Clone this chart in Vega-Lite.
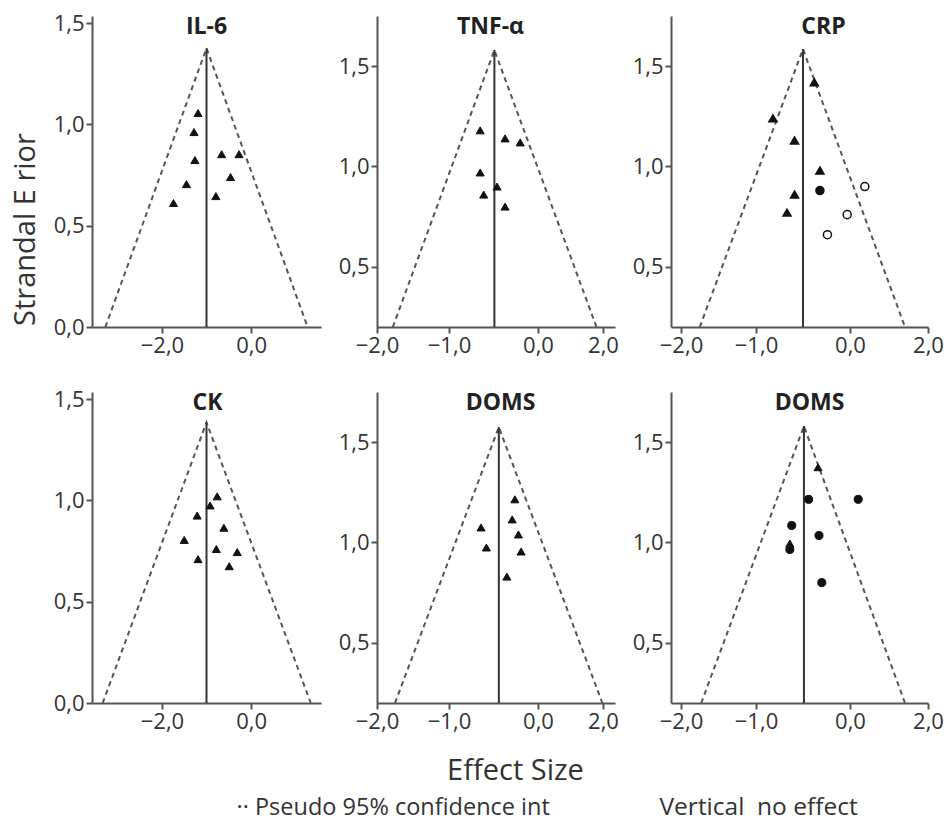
{
  "$schema": "https://vega.github.io/schema/vega-lite/v6.json",
  "padding": {"left": 11, "top": 12, "right": 5, "bottom": 5},
  "background": "white",
  "config": {
    "view": {"stroke": null},
    "font": "Open Sans",
    "axis": {
      "domainColor": "#555", "domainWidth": 2, "tickColor": "#555", "tickWidth": 2, "tickSize": 6,
      "labelColor": "#333", "labelFontSize": 22, "labelFont": "Open Sans", "grid": false, "labelPadding": 2, "labelFlush": false, "labelOverlap": false,
      "titleColor": "#333", "titleFontWeight": "normal", "titleFont": "Open Sans"
    }
  },
  "datasets": {
    "p1": [
      {"kind": "fun", "es": -3.27, "se": 0, "ord": 1}, {"kind": "fun", "es": -1, "se": 1.376, "ord": 2}, {"kind": "fun", "es": 1.27, "se": 0, "ord": 3},
      {"kind": "vl", "es": -1, "se": 0, "se2": 1.376},
      {"kind": "pt", "es": -1.19, "se": 1.056, "m": "tri"}, {"kind": "pt", "es": -1.28, "se": 0.962, "m": "tri"},
      {"kind": "pt", "es": -1.26, "se": 0.824, "m": "tri"}, {"kind": "pt", "es": -1.45, "se": 0.705, "m": "tri"},
      {"kind": "pt", "es": -1.74, "se": 0.612, "m": "tri"}, {"kind": "pt", "es": -0.66, "se": 0.853, "m": "tri"},
      {"kind": "pt", "es": -0.27, "se": 0.853, "m": "tri"}, {"kind": "pt", "es": -0.46, "se": 0.74, "m": "tri"},
      {"kind": "pt", "es": -0.79, "se": 0.646, "m": "tri"}
    ],
    "p2": [
      {"kind": "fun", "es": -1.78, "se": 0.2, "ord": 1}, {"kind": "fun", "es": -0.49, "se": 1.58, "ord": 2}, {"kind": "fun", "es": 1.8, "se": 0.2, "ord": 3},
      {"kind": "vl", "es": -0.49, "se": 0.2, "se2": 1.58},
      {"kind": "pt", "es": -0.65, "se": 1.18, "m": "tri"}, {"kind": "pt", "es": -0.37, "se": 1.14, "m": "tri"},
      {"kind": "pt", "es": -0.2, "se": 1.12, "m": "tri"}, {"kind": "pt", "es": -0.65, "se": 0.97, "m": "tri"},
      {"kind": "pt", "es": -0.46, "se": 0.9, "m": "tri"}, {"kind": "pt", "es": -0.61, "se": 0.86, "m": "tri"},
      {"kind": "pt", "es": -0.37, "se": 0.8, "m": "tri"}
    ],
    "p3": [
      {"kind": "fun", "es": -1.75, "se": 0.2, "ord": 1}, {"kind": "fun", "es": -0.5, "se": 1.585, "ord": 2}, {"kind": "fun", "es": 1.41, "se": 0.2, "ord": 3},
      {"kind": "vl", "es": -0.5, "se": 0.2, "se2": 1.585},
      {"kind": "pt", "es": -0.38, "se": 1.42, "m": "tri"}, {"kind": "pt", "es": -0.82, "se": 1.24, "m": "tri"},
      {"kind": "pt", "es": -0.59, "se": 1.13, "m": "tri"}, {"kind": "pt", "es": -0.32, "se": 0.98, "m": "tri"},
      {"kind": "pt", "es": -0.59, "se": 0.86, "m": "tri"}, {"kind": "pt", "es": -0.67, "se": 0.77, "m": "tri"},
      {"kind": "pt", "es": -0.32, "se": 0.88, "m": "dot"},
      {"kind": "pt", "es": 0.38, "se": 0.9, "m": "open"}, {"kind": "pt", "es": -0.03, "se": 0.76, "m": "open"},
      {"kind": "pt", "es": -0.24, "se": 0.66, "m": "open"}
    ],
    "p4": [
      {"kind": "fun", "es": -3.33, "se": 0, "ord": 1}, {"kind": "fun", "es": -1, "se": 1.385, "ord": 2}, {"kind": "fun", "es": 1.34, "se": 0, "ord": 3},
      {"kind": "vl", "es": -1, "se": 0, "se2": 1.385},
      {"kind": "pt", "es": -0.76, "se": 1.02, "m": "tri"}, {"kind": "pt", "es": -0.92, "se": 0.975, "m": "tri"},
      {"kind": "pt", "es": -1.21, "se": 0.925, "m": "tri"}, {"kind": "pt", "es": -0.61, "se": 0.865, "m": "tri"},
      {"kind": "pt", "es": -1.5, "se": 0.805, "m": "tri"}, {"kind": "pt", "es": -0.78, "se": 0.76, "m": "tri"},
      {"kind": "pt", "es": -0.31, "se": 0.745, "m": "tri"}, {"kind": "pt", "es": -1.19, "se": 0.71, "m": "tri"},
      {"kind": "pt", "es": -0.49, "se": 0.675, "m": "tri"}
    ],
    "p5": [
      {"kind": "fun", "es": -1.75, "se": 0.2, "ord": 1}, {"kind": "fun", "es": -0.44, "se": 1.575, "ord": 2}, {"kind": "fun", "es": 1.98, "se": 0.2, "ord": 3},
      {"kind": "vl", "es": -0.44, "se": 0.2, "se2": 1.575},
      {"kind": "pt", "es": -0.26, "se": 1.215, "m": "tri"}, {"kind": "pt", "es": -0.29, "se": 1.115, "m": "tri"},
      {"kind": "pt", "es": -0.22, "se": 1.04, "m": "tri"}, {"kind": "pt", "es": -0.19, "se": 0.955, "m": "tri"},
      {"kind": "pt", "es": -0.35, "se": 0.83, "m": "tri"}, {"kind": "pt", "es": -0.64, "se": 1.075, "m": "tri"},
      {"kind": "pt", "es": -0.58, "se": 0.975, "m": "tri"}
    ],
    "p6": [
      {"kind": "fun", "es": -1.73, "se": 0.2, "ord": 1}, {"kind": "fun", "es": -0.49, "se": 1.58, "ord": 2}, {"kind": "fun", "es": 1.41, "se": 0.2, "ord": 3},
      {"kind": "vl", "es": -0.49, "se": 0.2, "se2": 1.58},
      {"kind": "pt", "es": -0.34, "se": 1.375, "m": "tri"}, {"kind": "pt", "es": -0.44, "se": 1.215, "m": "dot"},
      {"kind": "pt", "es": 0.21, "se": 1.215, "m": "dot"}, {"kind": "pt", "es": -0.62, "se": 1.085, "m": "dot"},
      {"kind": "pt", "es": -0.33, "se": 1.035, "m": "dot"}, {"kind": "pt", "es": -0.64, "se": 0.965, "m": "dot"},
      {"kind": "pt", "es": -0.64, "se": 0.995, "m": "tri"}, {"kind": "pt", "es": -0.3, "se": 0.8, "m": "dot"}
    ]
  },
  "columns": 3,
  "align": "each",
  "bounds": "flush",
  "spacing": {"row": 65, "column": 56},
  "concat": [
    {
      "width": 229, "height": 311,
      "data": {"name": "p1"},
      "encoding": {
        "x": {"field": "es", "type": "quantitative", "scale": {"domain": [-3.57, 1.57], "nice": false, "zero": false},
              "axis": {"title": "IL-6", "titleFontSize": 23, "titleFontWeight": "bold", "titleColor": "#222", "titleX": 114, "titleY": -294, "titleAlign": "center", "titleBaseline": "alphabetic",
                       "values": [-2, 0], "labelExpr": "replace(format(datum.value, '.1f'), '.', ',')"}},
        "y": {"field": "se", "type": "quantitative", "scale": {"domain": [0, 1.535], "nice": false, "zero": false},
              "axis": {"title": "Strandal E rior", "titleFontSize": 29, "titleX": -67, "titleY": 213, "titleAlign": "center", "titleBaseline": "middle", "titleAngle": -90,
                       "values": [0, 0.5, 1, 1.5], "labelExpr": "replace(format(datum.value, '.1f'), '.', ',')"}}
      },
      "layer": [
        {"transform": [{"filter": "datum.kind == 'fun'"}], "mark": {"type": "line", "color": "#555", "strokeWidth": 2, "strokeDash": [5, 4]}, "encoding": {"order": {"field": "ord"}}},
        {"transform": [{"filter": "datum.kind == 'vl'"}], "mark": {"type": "rule", "color": "#333", "strokeWidth": 2}, "encoding": {"y2": {"field": "se2"}}},
        {"transform": [{"filter": "datum.kind == 'pt'"}], "mark": {"type": "point", "filled": true, "opacity": 1, "stroke": "#111", "strokeWidth": 1},
         "encoding": {"shape": {"field": "m", "scale": {"domain": ["tri", "dot", "open"], "range": ["triangle-up", "circle", "circle"]}, "legend": null},
                      "fill": {"field": "m", "scale": {"domain": ["tri", "dot", "open"], "range": ["#111", "#111", "#ffffff"]}, "legend": null},
                      "size": {"value": 65}}}
      ]
    },
    {
      "width": 238, "height": 311,
      "data": {"name": "p2"},
      "encoding": {
        "x": {"field": "es", "type": "quantitative", "scale": {"domain": [-2, -1, 0, 2, 2.37], "range": [0, 72, 161, 226, 238], "nice": false, "zero": false},
              "axis": {"title": null, "values": [-2, -1, 0, 2], "labelExpr": "replace(format(datum.value, '.1f'), '.', ',')"}},
        "y": {"field": "se", "type": "quantitative", "scale": {"domain": [0.2, 1.75], "nice": false, "zero": false},
              "axis": {"title": "TNF-α", "titleFontSize": 23, "titleFontWeight": "bold", "titleColor": "#222", "titleX": 113, "titleY": 17, "titleAngle": 0, "titleAlign": "center", "titleBaseline": "alphabetic",
                       "values": [0.5, 1, 1.5], "labelExpr": "replace(format(datum.value, '.1f'), '.', ',')"}}
      },
      "layer": [
        {"transform": [{"filter": "datum.kind == 'fun'"}], "mark": {"type": "line", "color": "#555", "strokeWidth": 2, "strokeDash": [5, 4]}, "encoding": {"order": {"field": "ord"}}},
        {"transform": [{"filter": "datum.kind == 'vl'"}], "mark": {"type": "rule", "color": "#333", "strokeWidth": 2}, "encoding": {"y2": {"field": "se2"}}},
        {"transform": [{"filter": "datum.kind == 'pt'"}], "mark": {"type": "point", "filled": true, "opacity": 1, "stroke": "#111", "strokeWidth": 1},
         "encoding": {"shape": {"field": "m", "scale": {"domain": ["tri", "dot", "open"], "range": ["triangle-up", "circle", "circle"]}, "legend": null},
                      "fill": {"field": "m", "scale": {"domain": ["tri", "dot", "open"], "range": ["#111", "#111", "#ffffff"]}, "legend": null},
                      "size": {"value": 65}}}
      ]
    },
    {
      "width": 257, "height": 311,
      "data": {"name": "p3"},
      "encoding": {
        "x": {"field": "es", "type": "quantitative", "scale": {"domain": [-2.13, -2, -1, 0, 2], "range": [0, 10, 85, 179, 257], "nice": false, "zero": false},
              "axis": {"title": null, "values": [-2, -1, 0, 2], "labelExpr": "replace(format(datum.value, '.1f'), '.', ',')"}},
        "y": {"field": "se", "type": "quantitative", "scale": {"domain": [0.2, 1.75], "nice": false, "zero": false},
              "axis": {"title": "CRP", "titleFontSize": 23, "titleFontWeight": "bold", "titleColor": "#222", "titleX": 152, "titleY": 17, "titleAngle": 0, "titleAlign": "center", "titleBaseline": "alphabetic",
                       "values": [0.5, 1, 1.5], "labelExpr": "replace(format(datum.value, '.1f'), '.', ',')"}}
      },
      "layer": [
        {"transform": [{"filter": "datum.kind == 'fun'"}], "mark": {"type": "line", "color": "#555", "strokeWidth": 2, "strokeDash": [5, 4]}, "encoding": {"order": {"field": "ord"}}},
        {"transform": [{"filter": "datum.kind == 'vl'"}], "mark": {"type": "rule", "color": "#333", "strokeWidth": 2}, "encoding": {"y2": {"field": "se2"}}},
        {"transform": [{"filter": "datum.kind == 'pt'"}], "mark": {"type": "point", "filled": true, "opacity": 1, "stroke": "#111", "strokeWidth": 1.5},
         "encoding": {"shape": {"field": "m", "scale": {"domain": ["tri", "dot", "open"], "range": ["triangle-up", "circle", "circle"]}, "legend": null},
                      "fill": {"field": "m", "scale": {"domain": ["tri", "dot", "open"], "range": ["#111", "#111", "#ffffff"]}, "legend": null},
                      "size": {"value": 65}}}
      ]
    },
    {
      "width": 229, "height": 311,
      "data": {"name": "p4"},
      "encoding": {
        "x": {"field": "es", "type": "quantitative", "scale": {"domain": [-3.57, 1.57], "nice": false, "zero": false},
              "axis": {"title": "·· Pseudo 95% confidence int", "titleFontSize": 23.5, "titleX": 144, "titleY": 104, "titleAlign": "left", "titleBaseline": "middle",
                       "values": [-2, 0], "labelExpr": "replace(format(datum.value, '.1f'), '.', ',')"}},
        "y": {"field": "se", "type": "quantitative", "scale": {"domain": [0, 1.535], "nice": false, "zero": false},
              "axis": {"title": "CK", "titleFontSize": 23, "titleFontWeight": "bold", "titleColor": "#222", "titleX": 115, "titleY": 17, "titleAngle": 0, "titleAlign": "center", "titleBaseline": "alphabetic",
                       "values": [0, 0.5, 1, 1.5], "labelExpr": "replace(format(datum.value, '.1f'), '.', ',')"}}
      },
      "layer": [
        {"transform": [{"filter": "datum.kind == 'fun'"}], "mark": {"type": "line", "color": "#555", "strokeWidth": 2, "strokeDash": [5, 4]}, "encoding": {"order": {"field": "ord"}}},
        {"transform": [{"filter": "datum.kind == 'vl'"}], "mark": {"type": "rule", "color": "#333", "strokeWidth": 2}, "encoding": {"y2": {"field": "se2"}}},
        {"transform": [{"filter": "datum.kind == 'pt'"}], "mark": {"type": "point", "filled": true, "opacity": 1, "stroke": "#111", "strokeWidth": 1},
         "encoding": {"shape": {"field": "m", "scale": {"domain": ["tri", "dot", "open"], "range": ["triangle-up", "circle", "circle"]}, "legend": null},
                      "fill": {"field": "m", "scale": {"domain": ["tri", "dot", "open"], "range": ["#111", "#111", "#ffffff"]}, "legend": null},
                      "size": {"value": 65}}}
      ]
    },
    {
      "width": 238, "height": 311,
      "data": {"name": "p5"},
      "encoding": {
        "x": {"field": "es", "type": "quantitative", "scale": {"domain": [-2, -1, 0, 2, 2.37], "range": [0, 72, 161, 226, 238], "nice": false, "zero": false},
              "axis": {"title": "Effect Size", "titleFontSize": 29, "titleX": 138, "titleY": 67, "titleAlign": "center", "titleBaseline": "middle",
                       "values": [-2, -1, 0, 2], "labelExpr": "replace(format(datum.value, '.1f'), '.', ',')"}},
        "y": {"field": "se", "type": "quantitative", "scale": {"domain": [0.2, 1.75], "nice": false, "zero": false},
              "axis": {"title": "DOMS", "titleFontSize": 23, "titleFontWeight": "bold", "titleColor": "#222", "titleX": 123, "titleY": 17, "titleAngle": 0, "titleAlign": "center", "titleBaseline": "alphabetic",
                       "values": [0.5, 1, 1.5], "labelExpr": "replace(format(datum.value, '.1f'), '.', ',')"}}
      },
      "layer": [
        {"transform": [{"filter": "datum.kind == 'fun'"}], "mark": {"type": "line", "color": "#555", "strokeWidth": 2, "strokeDash": [5, 4]}, "encoding": {"order": {"field": "ord"}}},
        {"transform": [{"filter": "datum.kind == 'vl'"}], "mark": {"type": "rule", "color": "#333", "strokeWidth": 2}, "encoding": {"y2": {"field": "se2"}}},
        {"transform": [{"filter": "datum.kind == 'pt'"}], "mark": {"type": "point", "filled": true, "opacity": 1, "stroke": "#111", "strokeWidth": 1},
         "encoding": {"shape": {"field": "m", "scale": {"domain": ["tri", "dot", "open"], "range": ["triangle-up", "circle", "circle"]}, "legend": null},
                      "fill": {"field": "m", "scale": {"domain": ["tri", "dot", "open"], "range": ["#111", "#111", "#ffffff"]}, "legend": null},
                      "size": {"value": 65}}}
      ]
    },
    {
      "width": 257, "height": 311,
      "data": {"name": "p6"},
      "encoding": {
        "x": {"field": "es", "type": "quantitative", "scale": {"domain": [-2.13, -2, -1, 0, 2], "range": [0, 10, 85, 179, 257], "nice": false, "zero": false},
              "axis": {"title": "Vertical\u00a0 no effect", "titleFontSize": 24.5, "titleX": -12, "titleY": 104, "titleAlign": "left", "titleBaseline": "middle",
                       "values": [-2, -1, 0, 2], "labelExpr": "replace(format(datum.value, '.1f'), '.', ',')"}},
        "y": {"field": "se", "type": "quantitative", "scale": {"domain": [0.2, 1.75], "nice": false, "zero": false},
              "axis": {"title": "DOMS", "titleFontSize": 23, "titleFontWeight": "bold", "titleColor": "#222", "titleX": 138, "titleY": 17, "titleAngle": 0, "titleAlign": "center", "titleBaseline": "alphabetic",
                       "values": [0.5, 1, 1.5], "labelExpr": "replace(format(datum.value, '.1f'), '.', ',')"}}
      },
      "layer": [
        {"transform": [{"filter": "datum.kind == 'fun'"}], "mark": {"type": "line", "color": "#555", "strokeWidth": 2, "strokeDash": [5, 4]}, "encoding": {"order": {"field": "ord"}}},
        {"transform": [{"filter": "datum.kind == 'vl'"}], "mark": {"type": "rule", "color": "#333", "strokeWidth": 2}, "encoding": {"y2": {"field": "se2"}}},
        {"transform": [{"filter": "datum.kind == 'pt'"}], "mark": {"type": "point", "filled": true, "opacity": 1, "stroke": "#111", "strokeWidth": 1},
         "encoding": {"shape": {"field": "m", "scale": {"domain": ["tri", "dot", "open"], "range": ["triangle-up", "circle", "circle"]}, "legend": null},
                      "fill": {"field": "m", "scale": {"domain": ["tri", "dot", "open"], "range": ["#111", "#111", "#ffffff"]}, "legend": null},
                      "size": {"value": 65}}}
      ]
    }
  ]
}
